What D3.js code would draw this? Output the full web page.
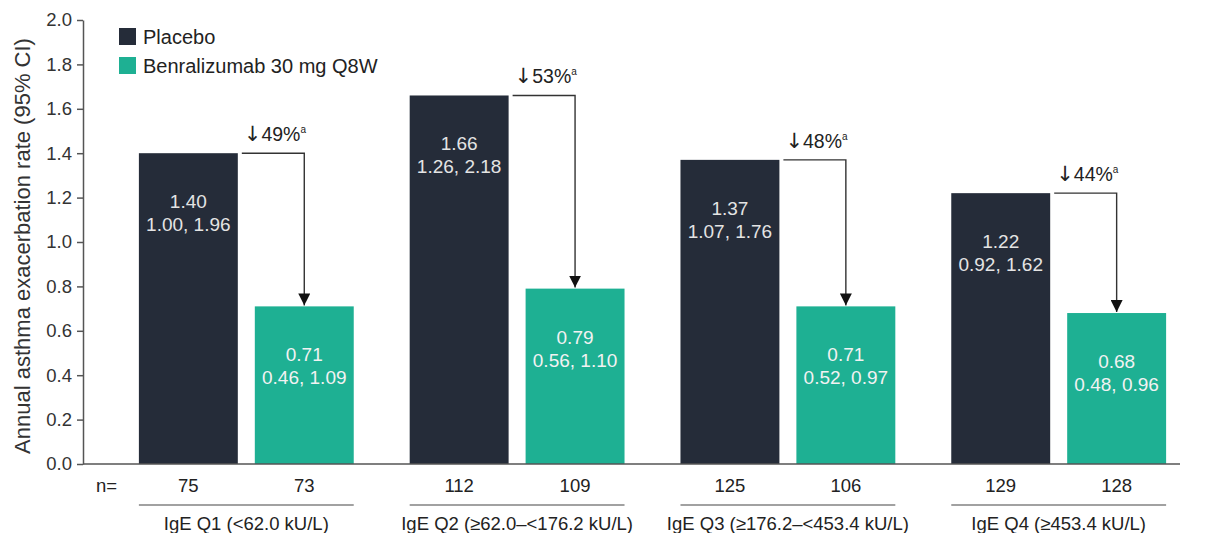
<!DOCTYPE html>
<html>
<head>
<meta charset="utf-8">
<script src="https://cdn.jsdelivr.net/npm/d3@7"></script>
<style>
  html, body { margin: 0; padding: 0; background: #fff; }
  svg { display: block; font-family: "Liberation Sans", Arial, sans-serif; }
</style>
</head>
<body>
<svg id="chart" width="1208" height="533"></svg>
<script>
// Quartile groups of baseline serum IgE
const groups = ["IgE Q1 (<62.0 kU/L)", "IgE Q2 (≥62.0–<176.2 kU/L)", "IgE Q3 (≥176.2–<453.4 kU/L)", "IgE Q4 (≥453.4 kU/L)"];
const seriesNames = ["Placebo", "Benralizumab 30 mg Q8W"];

// Annual exacerbation rates with 95% CI
const placeboRate = [1.40, 1.66, 1.37, 1.22];
const placeboCI = ["1.00, 1.96", "1.26, 2.18", "1.07, 1.76", "0.92, 1.62"];
const benraRate = [0.71, 0.79, 0.71, 0.68];
const benraCI = ["0.46, 1.09", "0.56, 1.10", "0.52, 0.97", "0.48, 0.96"];

// Patients per arm
const placeboN = [75, 112, 125, 129];
const benraN = [73, 109, 106, 128];

// Rate reduction vs placebo
const reduction = ["49%", "53%", "48%", "44%"];

const yTicks = [0, 0.2, 0.4, 0.6, 0.8, 1.0, 1.2, 1.4, 1.6, 1.8, 2.0];

const colors = { placebo: "#252c39", benra: "#1eb093" };

const svg = d3.select("#chart");

const axisX = 83, baseY = 464, topY = 20;

const y = d3.scaleLinear().domain([0, 2]).range([baseY, topY]);

const x0 = d3.scaleBand().domain(groups).range([111, 1194])
  .paddingInner(0.2066).paddingOuter(0.103);
const x1 = d3.scaleBand().domain(["placebo", "benra"]).range([0, x0.bandwidth()])
  .paddingInner(0.1466);

// y axis
const yAxis = d3.axisLeft(y).tickValues(yTicks).tickFormat(d3.format(".1f"))
  .tickSize(6).tickPadding(5).tickSizeOuter(0);
const gy = svg.append("g").attr("transform", `translate(${axisX},0)`).call(yAxis);
gy.select(".domain").attr("stroke", "#555").attr("stroke-width", 1.5);
gy.selectAll(".tick line").attr("stroke", "#555").attr("stroke-width", 1.5);
gy.selectAll(".tick text").attr("font-size", 18.5).attr("fill", "#333")
  .attr("font-family", "Liberation Sans, Arial, sans-serif");

// y axis title
svg.append("text")
  .attr("transform", `translate(30,246) rotate(-90)`)
  .attr("text-anchor", "middle")
  .attr("font-size", 22).attr("fill", "#333")
  .text("Annual asthma exacerbation rate (95% CI)");

// bars
const rows = groups.map((g, i) => ({
  g, i,
  bars: [
    { key: "placebo", rate: placeboRate[i], ci: placeboCI[i], n: placeboN[i] },
    { key: "benra", rate: benraRate[i], ci: benraCI[i], n: benraN[i] }
  ]
}));

const gGroup = svg.selectAll("g.grp").data(rows).enter().append("g")
  .attr("class", "grp")
  .attr("transform", d => `translate(${x0(d.g)},0)`);

gGroup.selectAll("rect").data(d => d.bars).enter().append("rect")
  .attr("x", d => x1(d.key))
  .attr("width", x1.bandwidth())
  .attr("y", d => y(d.rate))
  .attr("height", d => baseY - y(d.rate))
  .attr("fill", d => colors[d.key]);

// value and CI labels inside bars
const inBarFill = d => d.key === "placebo" ? "#e4e4e4" : "#f2f2f2";

gGroup.selectAll("text.val").data(d => d.bars).enter().append("text")
  .attr("class", "val")
  .attr("x", d => x1(d.key) + x1.bandwidth() / 2)
  .attr("y", d => y(d.rate) + 55)
  .attr("text-anchor", "middle")
  .attr("font-size", 19).attr("fill", inBarFill)
  .text(d => d.rate.toFixed(2));

gGroup.selectAll("text.ci").data(d => d.bars).enter().append("text")
  .attr("class", "ci")
  .attr("x", d => x1(d.key) + x1.bandwidth() / 2)
  .attr("y", d => y(d.rate) + 78)
  .attr("text-anchor", "middle")
  .attr("font-size", 19).attr("fill", inBarFill)
  .text(d => d.ci);

// x baseline
svg.append("line").attr("x1", axisX).attr("x2", 1180)
  .attr("y1", baseY).attr("y2", baseY)
  .attr("stroke", "#555").attr("stroke-width", 1.5);

// reduction arrows
svg.append("defs").append("marker")
  .attr("id", "arrowhead").attr("viewBox", "0 0 10 10")
  .attr("refX", 10).attr("refY", 5)
  .attr("markerWidth", 12).attr("markerHeight", 12)
  .attr("markerUnits", "userSpaceOnUse")
  .attr("orient", "auto")
  .append("path").attr("d", "M0,0 L10,5 L0,10 Z").attr("fill", "#111");

gGroup.append("path")
  .attr("d", d => {
    const xs = x1("placebo") + x1.bandwidth() + 4;
    const xe = x1("benra") + x1.bandwidth() / 2;
    const ys = y(d.bars[0].rate);
    const ye = y(d.bars[1].rate) - 1;
    return `M${xs},${ys} H${xe} V${ye}`;
  })
  .attr("fill", "none").attr("stroke", "#333").attr("stroke-width", 1.4)
  .attr("marker-end", "url(#arrowhead)");

const redLabel = gGroup.append("text")
  .attr("x", x1("placebo") + x1.bandwidth() + 6)
  .attr("y", d => y(d.bars[0].rate) - 12)
  .attr("font-size", 19.5).attr("fill", "#222");
redLabel.append("tspan").attr("font-size", 21).attr("font-family", "DejaVu Sans").text("↓");
redLabel.append("tspan").text(d => reduction[d.i]);
redLabel.append("tspan").attr("font-size", 10).attr("dy", -8).text("a");

// n= row
svg.append("text").attr("x", 96).attr("y", 492).attr("font-size", 18.5).attr("fill", "#222").text("n=");
gGroup.selectAll("text.n").data(d => d.bars).enter().append("text")
  .attr("class", "n")
  .attr("x", d => x1(d.key) + x1.bandwidth() / 2)
  .attr("y", 492)
  .attr("text-anchor", "middle")
  .attr("font-size", 18.5).attr("fill", "#222")
  .text(d => d.n);

// group separators and labels
gGroup.append("line")
  .attr("x1", 0).attr("x2", x0.bandwidth())
  .attr("y1", 505).attr("y2", 505)
  .attr("stroke", "#444").attr("stroke-width", 1.2);
gGroup.append("text")
  .attr("x", x0.bandwidth() / 2).attr("y", 530)
  .attr("text-anchor", "middle")
  .attr("font-size", 18.5).attr("fill", "#222")
  .text(d => d.g);

// legend
const legend = svg.append("g").attr("transform", "translate(119,28)");
seriesNames.forEach((name, i) => {
  const key = i === 0 ? "placebo" : "benra";
  legend.append("rect").attr("x", 0).attr("y", i * 29).attr("width", 17).attr("height", 17)
    .attr("fill", colors[key]);
  legend.append("text").attr("x", 24).attr("y", i * 29 + 16)
    .attr("font-size", 20).attr("fill", "#222").text(name);
});
</script>
</body>
</html>
